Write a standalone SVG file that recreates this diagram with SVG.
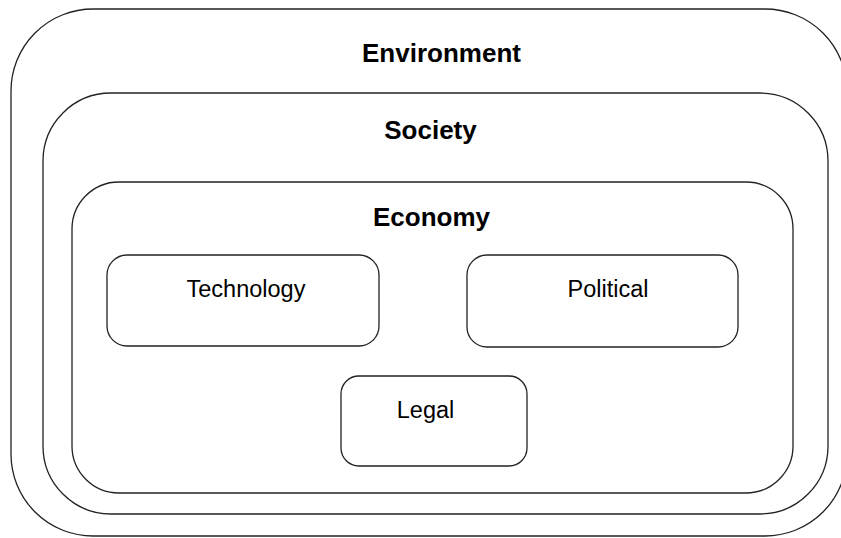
<svg xmlns="http://www.w3.org/2000/svg" width="841" height="538" viewBox="0 0 841 538">
<style>
.box{fill:none;stroke:#222;stroke-width:1.3}
.big{font-family:"Liberation Sans",Arial,sans-serif;font-weight:bold;font-size:26px;fill:#000;text-anchor:middle}
.lbl{font-family:"Liberation Sans",Arial,sans-serif;font-size:23.5px;fill:#000;text-anchor:middle}
</style>
<rect width="841" height="538" fill="#fff"/>
<g id="environment">
<rect class="box" x="11" y="9" width="836" height="527" rx="82" ry="82"/>
<text class="big" x="441.5" y="62">Environment</text>
</g>
<g id="society">
<rect class="box" x="43" y="93" width="785" height="421" rx="68" ry="68"/>
<text class="big" x="430.5" y="139">Society</text>
</g>
<g id="economy">
<rect class="box" x="72" y="182" width="721" height="311" rx="47" ry="47"/>
<text class="big" x="431.5" y="226">Economy</text>
</g>
<g id="technology">
<rect class="box" x="107" y="255" width="272" height="91" rx="20" ry="20"/>
<text class="lbl" x="246" y="297">Technology</text>
</g>
<g id="political">
<rect class="box" x="467" y="255" width="271" height="92" rx="20" ry="20"/>
<text class="lbl" x="608" y="297">Political</text>
</g>
<g id="legal">
<rect class="box" x="341" y="376" width="186" height="90" rx="18" ry="18"/>
<text class="lbl" x="425.5" y="418">Legal</text>
</g>
<g id="connectors"></g>
</svg>
